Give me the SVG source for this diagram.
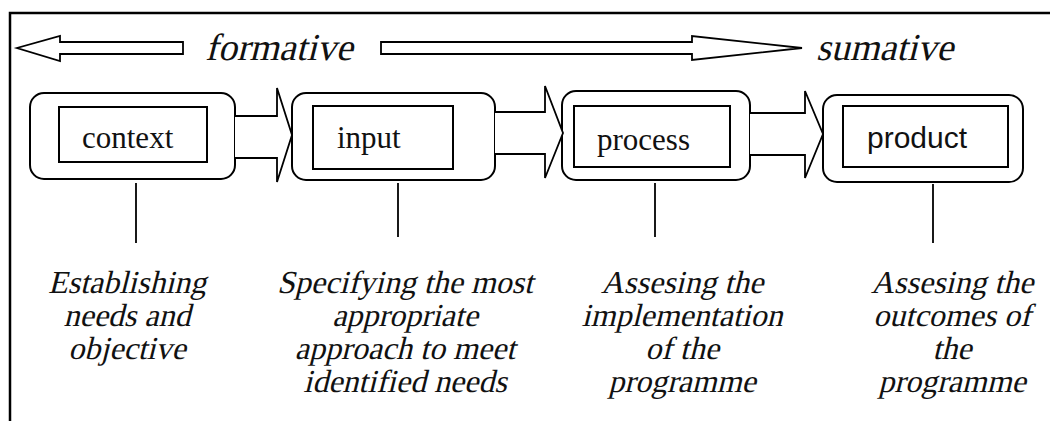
<svg xmlns="http://www.w3.org/2000/svg" width="1050" height="421" viewBox="0 0 1050 421">
<style>
.frame{fill:none;stroke:#000;stroke-width:2.5}
.outer{fill:#fff;stroke:#000;stroke-width:2}
.inner{fill:#fff;stroke:#000;stroke-width:2}
.blk{fill:#fff;stroke:#000;stroke-width:1.8;stroke-linejoin:miter}
.ln{stroke:#000;stroke-width:1.8}
.lbl{font-family:"Liberation Serif","Times New Roman",serif;font-size:31px;fill:#111}
.lbls{font-family:"Liberation Sans",Arial,sans-serif;font-size:30px;fill:#111}
.it{font-family:"Liberation Serif","Times New Roman",serif;font-size:32px;fill:#111;text-anchor:middle}
.top{font-family:"Liberation Serif","Times New Roman",serif;font-size:38px;fill:#111}
</style>
<rect width="1050" height="421" fill="#fff"/>
<path class="frame" d="M10,421 V13 H1050"/>
<g id="direction">
<polygon class="blk" points="183,42 60,42 60,36 17,48 60,61 60,54 183,54"/>
<text class="top" transform="translate(205,60) skewX(-14)">formative</text>
<polygon class="blk" points="381,42 692,42 692,36 802,48 692,60 692,54 381,54"/>
<text class="top" transform="translate(816,60) skewX(-14)">sumative</text>
</g>
<g id="node-context">
<rect class="outer" x="30" y="93" width="205" height="86" rx="14"/>
<rect class="inner" x="59" y="107" width="148" height="55"/>
<text class="lbl" x="82" y="148">context</text>
</g>
<g id="node-input">
<rect class="outer" x="292" y="93" width="203" height="87" rx="14"/>
<rect class="inner" x="313" y="106" width="140" height="63"/>
<text class="lbl" x="337" y="148">input</text>
</g>
<g id="node-process">
<rect class="outer" x="562" y="91" width="188" height="89" rx="14"/>
<rect class="inner" x="574" y="106" width="156" height="61"/>
<text class="lbl" x="597" y="150">process</text>
</g>
<g id="node-product">
<rect class="outer" x="823" y="95" width="200" height="87" rx="14"/>
<rect class="inner" x="843" y="106" width="165" height="61"/>
<text class="lbls" x="867" y="148">product</text>
</g>
<g id="connectors">
<polyline class="blk" points="235,116 277,116 277,88 292,135 277,182 277,158 235,158"/>
<polyline class="blk" points="495,112 545,112 545,86 563,133 545,178 545,154 495,154"/>
<polyline class="blk" points="750,113 805,113 805,91 823,134 805,178 805,155 750,155"/>
<line class="ln" x1="136" y1="183" x2="136" y2="243"/>
<line class="ln" x1="398" y1="183" x2="398" y2="237"/>
<line class="ln" x1="655" y1="183" x2="655" y2="237"/>
<line class="ln" x1="933" y1="184" x2="933" y2="243"/>
</g>
<g id="desc-context">
<text class="it" transform="translate(127,293) skewX(-14)">Establishing</text>
<text class="it" transform="translate(127,326) skewX(-14)">needs and</text>
<text class="it" transform="translate(127,359) skewX(-14)">objective</text>
</g>
<g id="desc-input">
<text class="it" transform="translate(405,293) skewX(-14)">Specifying the most</text>
<text class="it" transform="translate(405,326) skewX(-14)">appropriate</text>
<text class="it" transform="translate(405,359) skewX(-14)">approach to meet</text>
<text class="it" transform="translate(405,392) skewX(-14)">identified needs</text>
</g>
<g id="desc-process">
<text class="it" transform="translate(682,293) skewX(-14)">Assesing the</text>
<text class="it" transform="translate(682,326) skewX(-14)">implementation</text>
<text class="it" transform="translate(682,359) skewX(-14)">of the</text>
<text class="it" transform="translate(682,392) skewX(-14)">programme</text>
</g>
<g id="desc-product">
<text class="it" transform="translate(952,293) skewX(-14)">Assesing the</text>
<text class="it" transform="translate(952,326) skewX(-14)">outcomes of</text>
<text class="it" transform="translate(952,359) skewX(-14)">the</text>
<text class="it" transform="translate(952,392) skewX(-14)">programme</text>
</g>
</svg>
